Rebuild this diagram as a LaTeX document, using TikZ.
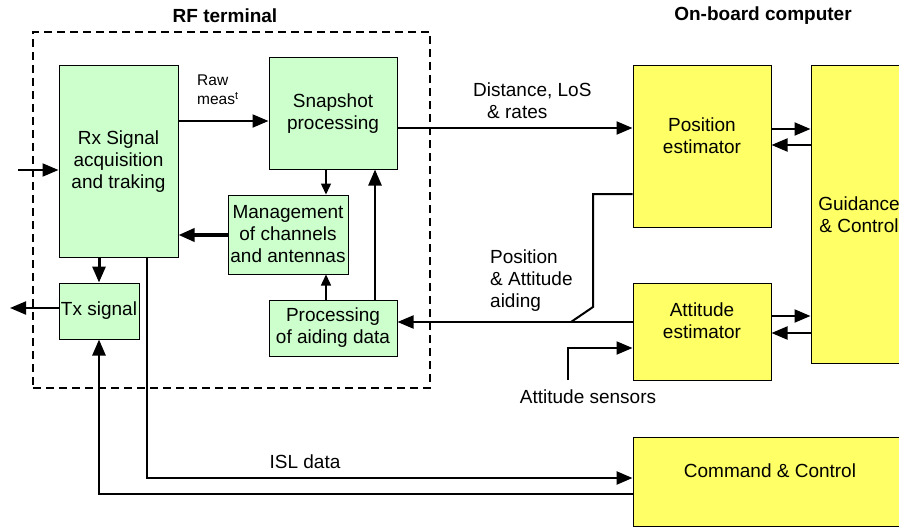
\documentclass[tikz,border=0pt]{standalone}
\usepackage{fontspec}
\setmainfont{Liberation Sans}
\usetikzlibrary{arrows.meta}
\definecolor{rfgreen}{HTML}{CCFFCC}
\definecolor{obcyellow}{HTML}{FFFF66}
\tikzset{
  blk/.style={draw=black, line width=1pt, rectangle, align=center, inner sep=0pt,
    font=\fontsize{19}{22}\selectfont},
  rfblk/.style={blk, fill=rfgreen},
  obcblk/.style={blk, fill=obcyellow},
  lbl/.style={font=\fontsize{19}{22}\selectfont, inner sep=0pt},
  hdr/.style={font=\bfseries\fontsize{19}{22}\selectfont, inner sep=0pt},
  flow/.style={line width=2pt, -{Triangle[length=16pt,width=13pt]}},
  flowthick/.style={line width=3.5pt, -{Triangle[length=16pt,width=13pt]}},
  flowsmall/.style={line width=1.5pt, -{Triangle[length=11pt,width=10pt]}},
  wire/.style={line width=2pt},
}
\begin{document}
\begin{tikzpicture}[x=1pt, y=-1pt]
\clip (0,0) rectangle (899,527);
\fill[white] (0,0) rectangle (899,527);

% RF terminal frame and headers
\node[draw, dashed, dash pattern=on 8pt off 5pt, line width=2pt,
      minimum width=397pt, minimum height=356pt, inner sep=0pt] (rf) at (231.5,210) {};
\node[hdr] (rfhdr) at (225,16) {RF terminal};
\node[hdr] (obchdr) at (763,16) {On-board computer};

% RF terminal blocks
\node[rfblk, minimum width=119pt, minimum height=191pt] (rx) at (118.5,161.5)
  {Rx Signal\\acquisition\\and traking};
\node[rfblk, minimum width=128pt, minimum height=111pt] (snap) at (333,113.5)
  {Snapshot\\processing};
\node[rfblk, minimum width=120pt, minimum height=79pt] (mgmt) at (288,234.5)
  {Management\\of channels\\and antennas};
\node[rfblk, minimum width=80pt, minimum height=56pt] (tx) at (99,311)
  {Tx signal};
\node[rfblk, minimum width=128pt, minimum height=56pt] (proc) at (333,328)
  {Processing\\of aiding data};

% On-board computer blocks
\node[obcblk, minimum width=138pt, minimum height=161pt] (pos) at (702,146.5)
  {Position\\estimator\\\mbox{}};
\node[obcblk, minimum width=96pt, minimum height=297pt] (gnc) at (859,214.5)
  {Guidance\\\& Control};
\node[obcblk, minimum width=138pt, minimum height=97pt] (att) at (702,331.5)
  {Attitude\\estimator\\\mbox{}};
\node[obcblk, minimum width=274pt, minimum height=89pt] (cc) at (770,481.5)
  {Command \& Control\\\mbox{}};

% free ends
\coordinate (rfin) at (18,170);
\coordinate (txout) at (10,308);
\coordinate (sens) at (568,380);
\coordinate (aidA) at (593,194);
\coordinate (aidB) at (593,307);
\coordinate (aidC) at (571,322);

% connectors inside the RF terminal
\draw[flow] (rfin) -- (rfin -| rx.west);
\draw[flow] (rx.east |- 0,121) -- (snap.west |- 0,121);
\draw[flowsmall] (snap.south -| 326,0) -- (mgmt.north -| 326,0);
\draw[flowthick] (mgmt.west |- 0,235) -- (rx.east |- 0,235);
\draw[flowsmall] (proc.north -| 326,0) -- (mgmt.south -| 326,0);
\draw[flow, line width=2.5pt] (proc.north -| 375,0) -- (snap.south -| 375,0);
\draw[flow, line width=3pt] (rx.south -| 99,0) -- (tx.north -| 99,0);
\draw[flow] (tx.west |- txout) -- (txout);

% links to the on-board computer
\draw[flow] (snap.east |- 0,128) -- (pos.west |- 0,128);
\draw[wire] (pos.west |- aidA) -- (aidA) -- (aidB) -- (aidC);
\draw[flow] (att.west |- 0,322) -- (proc.east |- 0,322);
\draw[flow] (sens) |- (att.west |- 0,348);
\draw[flow, line width=2.5pt] (rx.south -| 147,0) |- (cc.west |- 0,478);
\draw[flow, line width=2.5pt] (cc.west |- 0,494) -| (tx.south);

% estimator <-> guidance
\draw[flow] (pos.east |- 0,129) -- (gnc.west |- 0,129);
\draw[flow] (gnc.west |- 0,145) -- (pos.east |- 0,145);
\draw[flow] (att.east |- 0,316) -- (gnc.west |- 0,316);
\draw[flow] (gnc.west |- 0,333) -- (att.east |- 0,333);

% connector labels
\node[lbl, font=\fontsize{15.5}{19}\selectfont, align=left, anchor=west] (rawlbl) at (197,90)
  {Raw\\meas\textsuperscript{t}};
\node[lbl, align=left, anchor=west] (distlbl) at (473,101)
  {Distance, LoS\\\hspace*{14pt}\& rates};
\node[lbl, align=left, anchor=west] (aidlbl) at (490,281)
  {Position\\\& Attitude\\aiding};
\node[lbl] (isllbl) at (305,462) {ISL data};
\node[lbl] (senslbl) at (588,397) {Attitude sensors};
\end{tikzpicture}
\end{document}
